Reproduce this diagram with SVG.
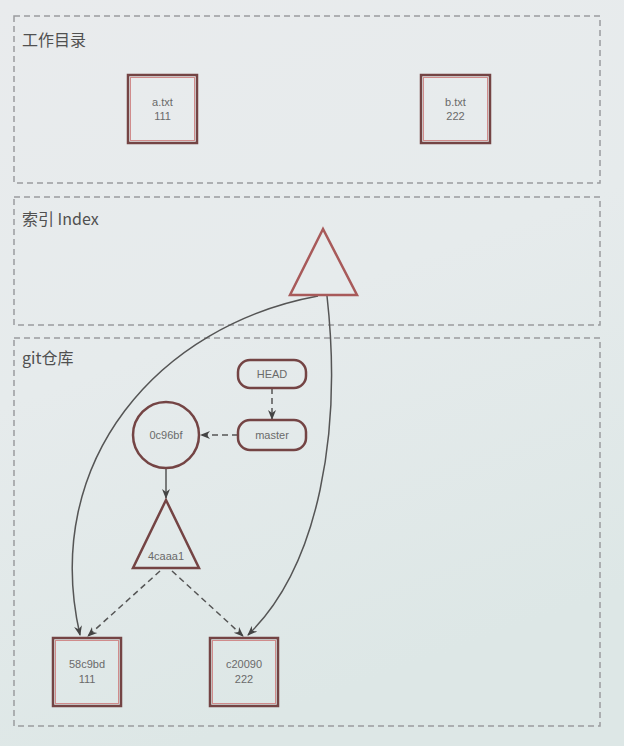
<svg xmlns="http://www.w3.org/2000/svg" width="624" height="746" viewBox="0 0 624 746">
  <defs>
    <linearGradient id="bg" x1="0" y1="0" x2="0.3" y2="1">
      <stop offset="0" stop-color="#e9ebed"/>
      <stop offset="0.5" stop-color="#e6ebec"/>
      <stop offset="1" stop-color="#dde7e6"/>
    </linearGradient>
    <marker id="arr" viewBox="0 0 10 10" refX="9" refY="5" markerWidth="10" markerHeight="10" orient="auto-start-reverse" markerUnits="userSpaceOnUse">
      <path d="M0,1 L10,5 L0,9 L3,5 Z" fill="#444"/>
    </marker>
    <style>
      .sec { fill: none; stroke: #9a9c9e; stroke-width: 1.5; stroke-dasharray: 6 4; }
      .lbl { font-family: "Noto Sans CJK SC", "Liberation Sans", sans-serif; font-size: 16px; fill: #505050; }
      .node { fill: none; stroke: #744444; stroke-width: 2.5; }
      .inner { fill: none; stroke: #d08c8c; stroke-width: 1; }
      .txt { font-family: "Liberation Sans", Arial, sans-serif; font-size: 11px; fill: #6a6a6a; text-anchor: middle; }
      .solid { fill: none; stroke: #555; stroke-width: 1.5; }
      .dash { fill: none; stroke: #555; stroke-width: 1.5; stroke-dasharray: 6 4; }
    </style>
  </defs>
  <rect width="624" height="746" fill="url(#bg)"/>

  <g id="sections">
    <rect class="sec" x="14" y="16" width="586" height="167"/>
    <text class="lbl" x="22" y="46">工作目录</text>
    <rect class="sec" x="14" y="197" width="586" height="128"/>
    <text class="lbl" x="22" y="225">索引 Index</text>
    <rect class="sec" x="14" y="338" width="586" height="388"/>
    <text class="lbl" x="22" y="364">git仓库</text>
  </g>

  <g id="connectors">
    <path class="solid" d="M318,296 C160,325 40,460 80,635" marker-end="url(#arr)"/>
    <path class="solid" d="M327,296 C342,430 320,565 248,635" marker-end="url(#arr)"/>
    <line class="dash" x1="272" y1="388" x2="272" y2="419" marker-end="url(#arr)"/>
    <line class="dash" x1="238" y1="435" x2="201" y2="435" marker-end="url(#arr)"/>
    <line class="solid" x1="166" y1="469" x2="166" y2="498" marker-end="url(#arr)"/>
    <line class="dash" x1="160" y1="571" x2="88" y2="636" marker-end="url(#arr)"/>
    <line class="dash" x1="172" y1="571" x2="243" y2="636" marker-end="url(#arr)"/>
  </g>

  <g id="node-a-txt">
    <rect class="node" x="128" y="75" width="69" height="68"/>
    <rect class="inner" x="130.5" y="77.5" width="64" height="63"/>
    <text class="txt" x="162.5" y="106">a.txt</text>
    <text class="txt" x="162.5" y="120">111</text>
  </g>
  <g id="node-b-txt">
    <rect class="node" x="421" y="75" width="69" height="68"/>
    <rect class="inner" x="423.5" y="77.5" width="64" height="63"/>
    <text class="txt" x="455.5" y="106">b.txt</text>
    <text class="txt" x="455.5" y="120">222</text>
  </g>
  <g id="node-index">
    <polygon points="323,229 290,295 357,295" fill="none" stroke="#a85a5a" stroke-width="2.5"/>
  </g>
  <g id="node-head">
    <rect class="node" x="238" y="360" width="68" height="28" rx="12"/>
    <text class="txt" x="272" y="378">HEAD</text>
  </g>
  <g id="node-master">
    <rect class="node" x="238" y="420" width="68" height="30" rx="12"/>
    <text class="txt" x="272" y="439">master</text>
  </g>
  <g id="node-0c96bf">
    <circle class="node" cx="166" cy="435" r="33"/>
    <text class="txt" x="166" y="439">0c96bf</text>
  </g>
  <g id="node-4caaa1">
    <polygon class="node" points="166,500 133,568 199,568"/>
    <text class="txt" x="166" y="560">4caaa1</text>
  </g>
  <g id="node-58c9bd">
    <rect class="node" x="53" y="638" width="68" height="68"/>
    <rect class="inner" x="55.5" y="640.5" width="63" height="63"/>
    <text class="txt" x="87" y="668">58c9bd</text>
    <text class="txt" x="87" y="683">111</text>
  </g>
  <g id="node-c20090">
    <rect class="node" x="210" y="638" width="68" height="68"/>
    <rect class="inner" x="212.5" y="640.5" width="63" height="63"/>
    <text class="txt" x="244" y="668">c20090</text>
    <text class="txt" x="244" y="683">222</text>
  </g>
</svg>
